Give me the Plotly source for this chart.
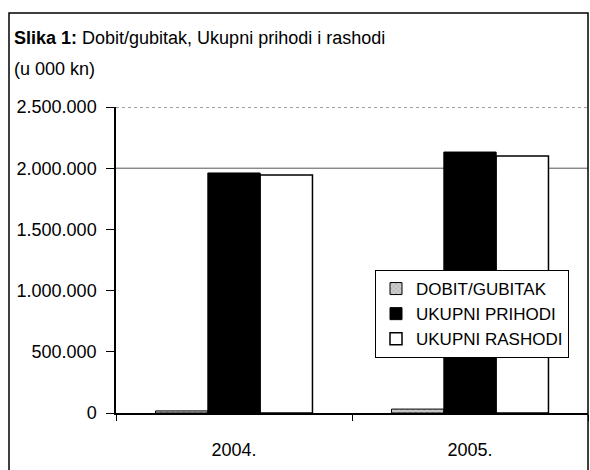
import plotly.graph_objects as go

categories = ["2004.", "2005."]
series_names = ["DOBIT/GUBITAK", "UKUPNI PRIHODI", "UKUPNI RASHODI"]
dobit = [17000, 32000]
prihodi = [1961000, 2132000]
rashodi = [1944000, 2100000]
y_ticks = [0, 500000, 1000000, 1500000, 2000000, 2500000]
y_tick_labels = ["0", "500.000", "1.000.000", "1.500.000", "2.000.000", "2.500.000"]

FONT = "Liberation Sans Narrow, Arial Narrow, Liberation Sans, Arial, sans-serif"

fig = go.Figure()
fig.add_trace(go.Bar(
    name=series_names[0], x=categories, y=dobit,
    marker=dict(color="#9a9a9a", line=dict(color="black", width=1),
                pattern=dict(shape="x", fgcolor="#333333", bgcolor="#d0d0d0", size=4)),
))
fig.add_trace(go.Bar(
    name=series_names[1], x=categories, y=prihodi,
    marker=dict(color="black", line=dict(color="black", width=1)),
))
fig.add_trace(go.Bar(
    name=series_names[2], x=categories, y=rashodi,
    marker=dict(color="white", line=dict(color="black", width=1.5)),
))

fig.update_layout(
    width=590, height=470,
    margin=dict(l=116, r=2, t=107, b=57),
    paper_bgcolor="white", plot_bgcolor="white",
    font=dict(family=FONT, size=17, color="black"),
    barmode="group", bargap=0.335, bargroupgap=0,
    showlegend=True,
    legend=dict(x=(375 - 116) / 472, y=(413 - 270) / 306, xanchor="left", yanchor="top",
                bgcolor="white", bordercolor="black", borderwidth=1,
                font=dict(family=FONT, size=17), tracegroupgap=0,
                itemwidth=30),
    xaxis=dict(range=[-0.5, 1.5], showline=True, linecolor="black", linewidth=1.5,
               ticks="outside", tickson="boundaries", ticklen=6, tickcolor="black",
               showgrid=False, tickfont=dict(size=18), ticklabelstandoff=20,
               zeroline=False),
    yaxis=dict(range=[0, 2500000], tickvals=y_ticks, ticktext=y_tick_labels,
               showline=True, linecolor="black", linewidth=1.5,
               ticks="outside", ticklen=8, tickcolor="black",
               showgrid=False, zeroline=False, tickfont=dict(size=18),
               ticklabelstandoff=6),
    shapes=[
        dict(type="rect", xref="paper", yref="paper", x0=-107 / 472, x1=1.0,
             y0=-60 / 306, y1=(306 + 94) / 306, line=dict(color="black", width=1.5)),
        dict(type="line", xref="paper", yref="y", x0=0, x1=1,
             y0=y_ticks[-1], y1=y_ticks[-1], line=dict(color="#444", width=1, dash="dot")),
        dict(type="line", xref="paper", yref="y", x0=0, x1=1,
             y0=y_ticks[4], y1=y_ticks[4], line=dict(color="#555", width=1), layer="below"),
    ],
    annotations=[
        dict(xref="paper", yref="paper", x=-104 / 472, y=(306 + 69) / 306,
             xanchor="left", yanchor="middle", showarrow=False,
             text="<b>Slika 1:</b> Dobit/gubitak, Ukupni prihodi i rashodi",
             font=dict(family=FONT, size=18)),
        dict(xref="paper", yref="paper", x=-104 / 472, y=(306 + 38) / 306,
             xanchor="left", yanchor="middle", showarrow=False,
             text="(u 000 kn)", font=dict(family=FONT, size=18)),
    ],
)

fig.write_html("out.html", config={"displayModeBar": False},
               post_script="document.body.style.margin='0';document.body.style.overflow='hidden';")
